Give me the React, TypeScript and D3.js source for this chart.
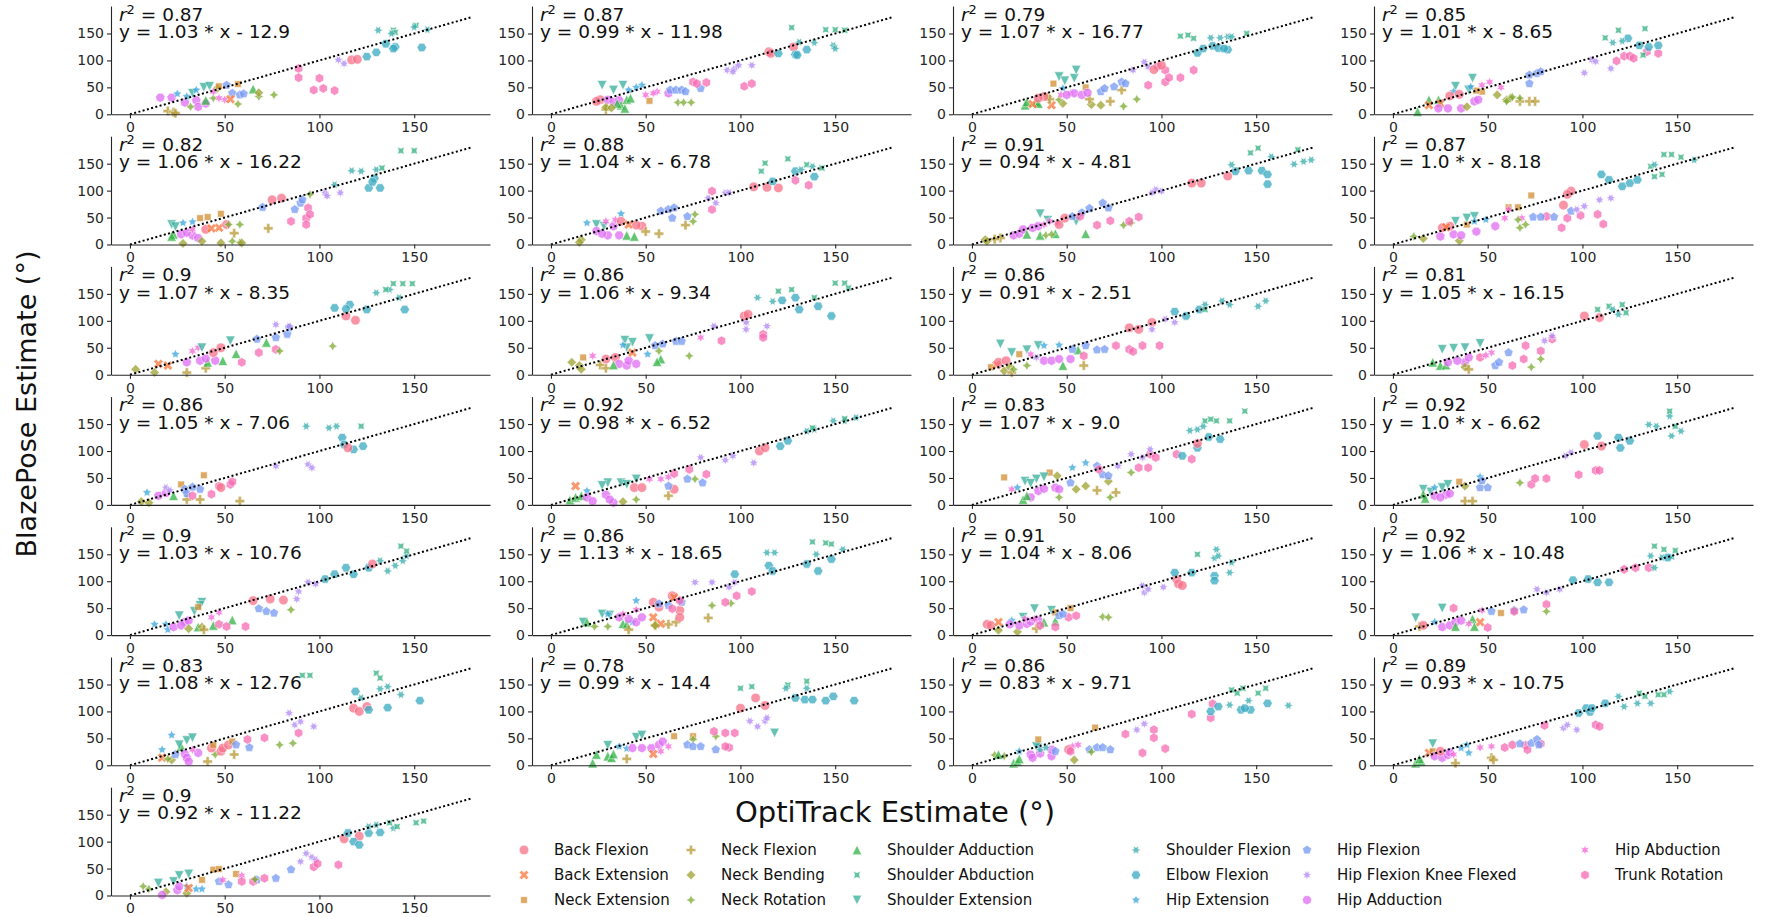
import { useEffect, useRef } from "react";
import * as d3 from "d3";

const CATEGORIES = [
  "Back Flexion", "Back Extension", "Neck Extension", "Neck Flexion", "Neck Bending", "Neck Rotation",
  "Shoulder Adduction", "Shoulder Abduction", "Shoulder Extension", "Shoulder Flexion", "Elbow Flexion",
  "Hip Extension", "Hip Flexion", "Hip Flexion Knee Flexed", "Hip Adduction", "Hip Abduction", "Trunk Rotation",
];

const R2 = ["0.87", "0.87", "0.79", "0.85", "0.82", "0.88", "0.91", "0.87", "0.9", "0.86", "0.86", "0.81",
  "0.86", "0.92", "0.83", "0.92", "0.9", "0.86", "0.91", "0.92", "0.83", "0.78", "0.86", "0.89", "0.9"];
const SLOPES = ["1.03", "0.99", "1.07", "1.01", "1.06", "1.04", "0.94", "1.0", "1.07", "1.06", "0.91", "1.05",
  "1.05", "0.98", "1.07", "1.0", "1.03", "1.13", "1.04", "1.06", "1.08", "0.99", "0.83", "0.93", "0.92"];
const INTERCEPTS = ["-12.9", "-11.98", "-16.77", "-8.65", "-16.22", "-6.78", "-4.81", "-8.18", "-8.35", "-9.34",
  "-2.51", "-16.15", "-7.06", "-6.52", "-9.0", "-6.62", "-10.76", "-18.65", "-8.06", "-10.48", "-12.76",
  "-14.4", "-9.71", "-10.75", "-11.22"];
const TICKS = [0, 50, 100, 150];

// [category index, OptiTrack estimate, BlazePose estimate]
type Pt = [number, number, number];

const P01: Pt[] = [[14,16,31],[14,22,31],[14,29,22],[14,35,26],[14,36,14],[14,40,20],[3,20,6],[3,23,4],[3,24,2],
  [5,32,14],[5,57,19],[5,68,33],[5,76,36],[5,44,30],[6,40,26],[6,65,47],[4,68,40],[4,46,48],[8,39,50],[8,33,39],
  [8,42,52],[11,25,38],[11,35,45],[11,30,33],[2,47,52],[2,57,56],[12,51,54],[12,54,39],[12,58,36],[12,60,38],
  [15,44,42],[15,50,27],[15,47,30],[1,53,28],[16,89,85],[16,89,68],[16,97,45],[16,100,67],[16,102,48],[16,108,44],
  [13,110,101],[13,113,94],[0,117,101],[0,120,102],[10,125,107],[10,130,115],[10,135,131],[10,140,125],[10,154,124],
  [10,139,122],[7,139,156],[7,151,165],[7,140,152],[9,131,156],[9,138,150],[9,157,157],[9,150,162]];
const P02: Pt[] = [[0,26,27],[0,24,24],[14,30,27],[14,33,23],[14,36,26],[14,62,39],[6,37,17],[6,40,27],[6,39,11],
  [6,42,30],[6,35,20],[3,29,9],[4,29,13],[4,32,12],[8,27,54],[8,33,45],[8,38,54],[11,48,54],[11,41,45],[11,45,50],
  [2,52,25],[15,50,36],[15,56,42],[15,54,39],[12,63,45],[12,66,45],[12,69,45],[12,71,42],[12,79,48],[5,67,22],
  [5,70,22],[5,74,22],[16,75,60],[16,82,59],[16,77,57],[16,102,52],[16,106,57],[13,93,82],[13,97,85],[13,99,91],
  [13,106,91],[13,96,79],[0,115,116],[0,116,113],[0,128,125],[10,120,113],[10,129,111],[10,130,110],[10,135,120],
  [7,127,161],[7,145,157],[7,150,157],[7,155,156],[9,131,134],[9,139,133],[9,149,128],[9,150,122]];
const P03: Pt[] = [[6,28,17],[6,29,23],[6,34,23],[6,35,20],[1,32,19],[1,42,17],[2,43,57],[2,60,50],[8,46,70],
  [8,49,62],[8,54,67],[8,55,82],[11,48,48],[4,40,33],[4,48,20],[4,63,18],[4,68,17],[3,41,28],[3,62,28],[3,73,24],
  [3,79,45],[5,80,15],[5,87,28],[5,46,27],[0,38,33],[0,35,30],[15,47,36],[15,52,39],[14,54,39],[14,58,36],[14,61,40],
  [14,50,36],[12,68,42],[12,70,48],[12,75,51],[12,79,60],[12,81,57],[13,85,82],[13,91,97],[13,93,88],[16,93,54],
  [16,98,89],[16,102,82],[16,102,60],[16,104,68],[16,110,68],[16,117,82],[0,96,83],[0,100,91],[10,119,114],
  [10,122,122],[10,127,127],[10,130,123],[10,135,120],[10,133,122],[7,110,145],[7,114,147],[7,117,141],[7,145,150],
  [9,126,142],[9,131,142],[9,135,144],[9,137,144]];
const P04: Pt[] = [[6,13,5],[6,19,27],[6,24,27],[1,19,17],[1,25,20],[2,47,42],[2,44,44],[14,24,11],[14,29,11],
  [14,36,11],[14,43,24],[14,45,27],[8,33,52],[8,42,67],[8,40,45],[11,32,42],[11,41,51],[4,39,14],[4,55,36],[4,60,27],
  [4,62,30],[3,67,24],[3,72,24],[3,75,24],[5,60,24],[5,63,32],[5,67,30],[15,47,54],[15,51,60],[15,57,50],[0,35,37],
  [0,30,34],[12,72,57],[12,72,73],[12,76,76],[12,78,79],[13,101,77],[13,105,101],[13,107,98],[13,115,85],[16,118,99],
  [16,122,108],[16,125,108],[16,127,104],[16,134,116],[16,140,113],[10,124,141],[10,130,128],[10,135,125],
  [10,140,128],[7,112,142],[7,119,156],[7,133,159],[7,132,110],[9,116,133],[9,121,136]];
const P05: Pt[] = [[8,22,37],[8,24,33],[11,28,40],[11,33,42],[2,37,49],[2,41,51],[2,48,57],[6,23,19],[6,22,15],
  [14,27,19],[14,33,17],[14,36,12],[14,30,22],[0,40,28],[1,47,31],[0,51,37],[1,43,30],[3,55,21],[3,73,30],[5,52,37],
  [5,58,37],[5,54,6],[5,58,4],[4,28,2],[4,38,6],[4,48,3],[4,59,3],[15,33,28],[12,70,69],[12,87,65],[12,90,77],
  [12,91,83],[0,75,83],[0,80,86],[16,85,43],[16,93,49],[16,93,37],[16,94,68],[16,95,56],[13,103,96],[13,104,90],
  [13,111,96],[5,95,93],[9,108,111],[10,126,105],[10,132,105],[10,129,123],[10,128,116],[9,117,137],[9,122,136],
  [9,130,139],[7,143,174],[7,150,174],[7,133,142]];
const P06: Pt[] = [[4,16,9],[4,15,4],[11,19,40],[11,37,57],[8,24,37],[8,28,34],[14,24,25],[14,30,17],[14,36,17],
  [14,33,34],[14,27,20],[15,29,43],[15,34,46],[0,37,43],[0,48,34],[0,45,36],[1,41,37],[6,40,17],[6,44,15],[3,50,24],
  [3,57,20],[3,71,36],[5,75,43],[5,76,56],[12,58,62],[12,62,65],[12,64,49],[12,72,52],[12,65,68],[16,85,65],
  [16,85,99],[13,83,86],[13,92,96],[13,94,96],[13,87,77],[0,114,106],[0,120,105],[0,107,107],[10,117,117],
  [10,139,126],[10,129,136],[16,129,119],[16,136,110],[7,113,151],[7,111,136],[7,125,159],[7,135,148],[7,143,142],
  [9,132,139],[9,138,145]];
const P07: Pt[] = [[4,7,9],[4,8,6],[3,15,12],[3,12,10],[14,22,17],[14,25,20],[14,27,28],[14,32,31],[14,35,34],
  [6,29,19],[6,36,17],[6,44,20],[6,60,20],[8,36,57],[8,55,43],[8,40,45],[15,38,37],[15,41,43],[15,45,40],[0,46,37],
  [0,49,49],[5,39,17],[5,42,19],[5,80,36],[5,84,40],[12,53,52],[12,62,67],[12,69,77],[12,72,68],[12,58,59],
  [16,57,52],[16,66,36],[16,73,44],[16,83,43],[16,88,51],[13,97,102],[13,100,99],[13,95,96],[0,116,114],[0,121,114],
  [0,135,127],[10,139,136],[10,146,137],[10,153,137],[10,156,130],[10,156,112],[9,137,148],[9,170,149],[9,175,154],
  [9,179,157],[9,158,163],[7,147,170],[7,151,179],[7,172,176]];
const P08: Pt[] = [[5,11,15],[4,16,11],[4,35,7],[14,25,15],[14,32,19],[14,36,17],[14,44,24],[14,54,34],[0,26,31],
  [0,30,34],[1,28,32],[2,39,37],[2,61,69],[2,66,69],[2,73,91],[8,33,43],[8,39,49],[8,43,52],[11,43,43],[11,49,46],
  [15,59,49],[15,61,65],[15,68,49],[5,67,31],[5,70,37],[5,66,46],[16,81,52],[16,89,31],[16,92,49],[16,99,54],
  [16,108,56],[16,111,38],[0,90,73],[0,94,99],[0,92,93],[12,74,51],[12,78,51],[12,85,51],[12,94,62],[13,97,65],
  [13,101,71],[13,109,83],[13,115,86],[10,110,130],[10,114,120],[10,121,108],[10,125,114],[10,129,120],[7,136,145],
  [7,138,126],[7,142,130],[7,143,167],[7,147,167],[7,152,162],[9,138,148],[9,159,157]];
const P09: Pt[] = [[4,3,10],[4,13,4],[1,15,20],[1,20,17],[3,30,4],[3,40,12],[11,24,38],[6,41,23],[6,49,26],
  [6,56,39],[6,72,60],[14,30,23],[14,37,26],[14,45,26],[14,40,30],[15,33,44],[15,36,50],[8,38,50],[8,53,63],
  [0,44,41],[0,48,50],[16,59,23],[16,68,41],[16,77,47],[5,79,44],[5,107,53],[12,67,66],[12,77,69],[12,83,75],
  [12,84,87],[13,77,93],[13,84,90],[0,114,109],[0,119,101],[10,108,124],[10,116,130],[10,125,121],[10,145,121],
  [10,114,122],[9,130,152],[9,137,158],[9,142,143],[7,139,169],[7,144,169],[7,149,169],[7,135,158]];
const P10: Pt[] = [[4,11,23],[4,15,17],[4,16,10],[2,17,32],[15,22,35],[15,79,69],[3,26,18],[3,29,12],[0,29,29],
  [0,34,32],[14,36,20],[14,40,17],[14,41,26],[14,45,20],[6,33,18],[6,58,29],[6,56,24],[8,39,64],[8,43,60],[8,52,67],
  [8,40,50],[1,43,41],[11,51,38],[11,38,55],[12,55,54],[12,59,57],[12,66,62],[12,69,62],[5,57,44],[5,73,35],
  [13,86,90],[13,103,97],[13,103,84],[13,114,90],[16,90,63],[16,112,75],[16,112,69],[0,102,109],[0,104,112],
  [9,109,143],[9,117,136],[10,122,138],[10,129,143],[10,131,121],[10,141,127],[10,148,109],[7,120,155],[7,127,158],
  [7,150,170],[7,155,170],[7,157,161],[7,139,143]];
const P11: Pt[] = [[2,10,14],[1,13,18],[2,25,38],[0,14,23],[0,18,26],[4,17,7],[4,20,14],[3,21,4],[3,59,17],
  [5,29,17],[5,22,10],[8,15,57],[8,21,41],[8,29,46],[8,35,54],[11,38,54],[11,46,55],[14,38,26],[14,42,26],[14,46,29],
  [14,52,29],[13,34,32],[15,31,38],[6,48,17],[6,56,46],[12,53,47],[12,60,54],[12,66,46],[12,70,47],[16,59,35],
  [16,76,54],[16,83,47],[16,85,43],[16,90,54],[16,99,54],[0,83,87],[0,88,84],[0,95,97],[13,95,84],[13,102,103],
  [13,107,97],[10,107,117],[10,113,109],[10,120,121],[9,123,130],[9,132,137],[9,136,130],[9,151,127],[9,155,137],
  [7,123,121]];
const P12: Pt[] = [[6,21,23],[6,25,17],[6,28,18],[8,26,47],[8,32,49],[8,38,50],[8,46,58],[14,29,23],[14,38,23],
  [14,40,32],[14,34,26],[4,38,14],[3,40,10],[16,46,32],[16,63,17],[16,69,29],[16,70,54],[16,78,44],[16,84,66],
  [15,52,41],[15,49,36],[12,54,17],[12,56,23],[12,61,41],[5,73,14],[5,78,29],[13,80,63],[13,84,72],[0,101,109],
  [0,109,106],[7,108,121],[7,114,127],[7,121,130],[7,123,115],[9,116,121],[9,119,112]];
const P13: Pt[] = [[4,6,6],[4,10,4],[11,9,23],[14,15,17],[14,19,22],[13,19,32],[13,21,27],[6,23,17],[3,30,10],
  [3,37,10],[3,58,7],[2,27,38],[2,39,55],[12,29,29],[12,37,29],[12,30,21],[12,33,33],[16,33,17],[16,43,20],[16,47,35],
  [16,53,38],[16,54,43],[0,48,32],[13,77,72],[13,94,75],[13,96,69],[10,112,125],[10,113,112],[10,118,103],
  [10,123,109],[0,115,106],[9,93,146],[9,105,143],[9,109,146],[7,122,146]];
const P14: Pt[] = [[6,10,9],[6,13,14],[6,16,17],[1,13,35],[11,19,26],[8,30,41],[8,37,41],[8,45,48],[8,40,38],
  [8,27,36],[14,19,14],[14,22,7],[14,29,19],[14,33,4],[14,31,10],[4,38,6],[0,44,32],[0,48,32],[0,65,29],[15,52,48],
  [15,58,48],[15,62,52],[3,62,17],[5,45,10],[5,76,48],[12,62,35],[12,72,48],[12,80,41],[16,65,58],[16,73,66],
  [16,82,57],[13,79,88],[13,92,83],[13,96,91],[13,107,78],[0,110,100],[0,113,106],[10,121,109],[10,125,119],
  [9,135,137],[9,139,140],[9,149,156],[9,155,156],[9,161,162],[7,138,143],[7,155,160]];
const P15: Pt[] = [[2,17,51],[2,41,60],[15,21,29],[11,24,32],[8,28,44],[8,34,48],[8,38,52],[8,31,40],[14,31,14],
  [14,35,26],[14,44,32],[14,46,29],[14,38,30],[6,27,10],[6,29,17],[4,45,54],[4,55,29],[4,60,35],[4,72,44],[5,46,14],
  [5,73,14],[5,84,60],[12,52,41],[12,66,72],[12,69,56],[12,72,54],[11,53,69],[11,60,78],[3,66,27],[3,76,23],
  [16,67,66],[16,88,69],[16,93,69],[16,94,94],[16,97,88],[16,108,94],[16,116,85],[13,77,72],[13,84,94],[13,90,88],
  [13,94,103],[10,111,91],[10,119,106],[10,125,126],[10,131,122],[0,119,114],[9,115,138],[9,119,140],[9,122,146],
  [7,123,156],[7,129,156],[7,136,156],[7,144,174],[7,126,159]];
const P16: Pt[] = [[8,16,29],[8,26,32],[8,29,38],[8,20,24],[6,16,20],[6,17,12],[14,22,17],[14,28,19],[14,30,21],
  [14,25,14],[11,22,32],[11,46,52],[2,35,43],[4,38,35],[3,38,7],[3,42,7],[12,46,32],[12,50,32],[12,47,45],[5,67,41],
  [16,73,38],[16,75,49],[16,81,49],[16,98,56],[16,107,64],[16,109,64],[13,91,91],[13,94,97],[0,101,112],[0,110,109],
  [10,108,128],[10,119,125],[10,120,106],[10,125,119],[9,135,149],[9,139,146],[9,146,165],[9,147,128],[9,152,137],
  [7,146,174],[7,149,146]];
const P17: Pt[] = [[11,13,20],[11,19,20],[11,20,10],[14,23,15],[14,29,24],[14,31,27],[14,27,18],[8,26,36],
  [8,34,44],[8,38,61],[8,37,55],[6,36,15],[6,54,28],[6,44,18],[4,31,12],[4,38,15],[3,39,10],[2,36,52],[15,43,33],
  [15,47,42],[16,47,20],[16,51,16],[16,61,16],[0,65,64],[0,74,67],[0,81,65],[12,68,49],[12,72,44],[12,76,41],
  [5,85,47],[13,88,67],[13,89,81],[13,94,98],[13,98,95],[10,103,104],[10,108,113],[10,114,125],[10,118,113],
  [10,126,125],[0,128,132],[9,132,138],[9,136,119],[9,140,129],[9,144,138],[9,146,147],[7,143,165],[7,146,156]];
const P18: Pt[] = [[8,17,24],[8,27,39],[8,31,37],[6,19,24],[6,38,21],[6,40,20],[11,30,39],[11,45,64],[11,43,24],
  [5,23,16],[5,30,16],[3,41,10],[3,55,18],[3,62,20],[3,66,24],[3,83,32],[14,36,33],[14,41,30],[14,45,24],[14,48,33],
  [15,38,39],[15,45,47],[0,54,61],[0,57,52],[0,64,73],[0,68,46],[0,68,33],[1,54,33],[1,58,21],[1,65,70],[4,55,18],
  [12,57,58],[12,62,55],[12,69,61],[16,64,49],[16,68,64],[5,85,55],[5,95,59],[13,76,98],[13,85,98],[13,94,89],
  [13,97,98],[16,92,61],[16,98,73],[16,106,81],[10,97,113],[10,115,129],[10,117,119],[10,135,132],[10,141,119],
  [10,148,141],[9,114,153],[9,118,153],[9,140,150],[9,154,159],[7,138,173],[7,145,171],[7,148,169]];
const P19: Pt[] = [[0,8,20],[0,10,18],[1,14,24],[4,14,9],[4,24,6],[3,34,12],[11,21,27],[14,20,20],[14,25,18],
  [14,29,21],[14,35,28],[14,31,25],[8,27,33],[8,33,49],[8,42,46],[15,28,30],[15,33,30],[6,38,24],[6,44,26],[2,44,42],
  [2,52,50],[16,36,18],[16,44,15],[16,51,33],[16,55,36],[12,46,36],[12,48,39],[5,69,34],[5,72,33],[13,90,92],
  [13,91,79],[13,93,85],[13,101,89],[0,108,104],[0,109,95],[0,111,92],[10,107,116],[10,116,116],[10,128,110],
  [10,128,101],[7,119,150],[9,128,143],[9,129,159],[9,130,147],[9,136,116],[9,137,135]];
const P20: Pt[] = [[8,12,32],[8,26,50],[3,14,16],[0,16,18],[11,22,24],[14,26,15],[14,30,18],[14,33,24],[14,36,27],
  [16,32,50],[16,50,14],[6,33,16],[6,42,30],[6,43,16],[1,46,24],[2,57,41],[15,40,21],[15,47,46],[12,52,44],
  [12,64,46],[12,69,47],[16,64,44],[16,81,57],[5,81,44],[13,76,85],[13,81,79],[13,88,85],[10,95,102],[10,103,104],
  [10,108,98],[10,114,98],[16,122,122],[16,128,125],[16,135,125],[9,136,147],[9,138,125],[9,142,144],[7,138,165],
  [7,143,159],[7,149,157],[7,147,145],[10,145,144]];
const P21: Pt[] = [[11,17,29],[11,22,56],[1,17,14],[4,22,10],[5,20,12],[12,24,20],[6,27,35],[8,26,38],[8,30,46],
  [8,33,51],[14,29,21],[14,30,14],[14,31,7],[14,36,23],[15,33,29],[3,41,7],[3,55,20],[5,45,20],[0,43,32],[0,48,26],
  [0,49,32],[0,52,38],[2,44,38],[2,54,44],[12,56,38],[12,63,33],[16,62,48],[16,71,51],[16,89,60],[5,79,38],
  [5,86,41],[13,84,97],[13,87,75],[13,90,81],[13,97,72],[0,118,106],[0,121,100],[0,125,109],[10,119,137],
  [10,126,103],[10,136,107],[10,153,120],[9,122,125],[9,132,142],[9,136,146],[9,143,131],[7,91,167],[7,95,167],
  [7,130,171],[7,132,162]];
const P22: Pt[] = [[6,22,4],[6,24,20],[6,30,17],[6,32,14],[6,33,21],[8,30,37],[8,45,52],[8,48,56],[8,118,60],
  [11,36,35],[11,40,31],[3,40,12],[14,43,32],[14,48,32],[14,53,32],[14,57,38],[14,59,44],[1,54,21],[15,58,26],
  [15,62,35],[2,65,54],[2,75,54],[5,75,48],[5,87,54],[12,72,38],[12,75,35],[12,79,35],[12,87,29],[16,86,63],
  [16,92,60],[16,97,60],[16,94,33],[16,92,35],[0,100,106],[0,108,125],[0,113,111],[13,105,82],[13,109,72],
  [13,113,82],[13,114,88],[7,100,143],[7,106,146],[7,125,149],[7,135,156],[9,124,143],[9,135,143],[10,129,125],
  [10,134,122],[10,138,122],[10,145,120],[10,149,128],[10,160,120]];
const P23: Pt[] = [[5,12,19],[5,17,17],[6,14,20],[6,22,4],[6,24,7],[6,25,12],[11,25,26],[11,35,38],[8,34,35],
  [2,35,48],[2,65,70],[14,31,20],[14,32,14],[14,42,17],[14,42,29],[14,36,22],[9,36,29],[9,39,33],[12,44,26],
  [12,62,29],[12,66,33],[12,69,33],[12,73,29],[4,54,10],[15,53,35],[15,56,38],[0,51,29],[5,63,25],[16,52,26],
  [16,81,58],[16,90,23],[16,96,66],[16,96,51],[16,102,31],[13,87,66],[13,91,77],[16,116,95],[16,126,88],
  [16,127,114],[10,126,100],[10,130,109],[10,142,103],[10,147,103],[10,156,115],[10,144,106],[9,136,112],
  [9,146,120],[9,167,111],[7,137,140],[7,140,134],[7,143,143],[7,151,134],[7,155,143]];
const P24: Pt[] = [[6,12,4],[6,15,7],[6,14,12],[8,21,40],[1,19,23],[2,21,26],[14,22,17],[14,26,14],[14,29,19],
  [14,30,24],[0,25,26],[15,32,20],[15,46,33],[15,52,35],[3,33,4],[3,52,14],[3,53,10],[11,36,32],[11,40,23],
  [11,39,38],[16,59,33],[16,63,38],[16,70,37],[16,71,29],[16,78,40],[16,80,74],[12,67,40],[12,73,41],[12,76,48],
  [12,77,38],[13,90,69],[13,92,75],[13,97,66],[16,107,75],[16,109,72],[10,98,97],[10,102,106],[10,104,99],
  [10,105,106],[10,112,115],[9,119,128],[9,122,109],[9,129,115],[9,136,115],[9,146,137],[7,130,134],[7,133,128],
  [7,140,131],[7,143,131]];
const P25: Pt[] = [[5,7,17],[5,10,12],[8,15,23],[8,23,26],[8,26,37],[8,31,40],[4,19,7],[4,30,4],[14,17,1],
  [14,25,10],[14,26,17],[11,30,17],[11,35,12],[11,38,12],[1,31,14],[2,38,29],[2,44,48],[2,47,49],[2,56,40],
  [12,47,26],[12,52,20],[12,67,29],[12,77,32],[12,85,48],[15,49,29],[15,59,37],[16,59,26],[16,65,26],[16,71,32],
  [5,66,30],[13,90,63],[13,93,78],[13,96,71],[13,98,66],[16,97,53],[16,99,59],[16,110,57],[0,113,105],[0,121,110],
  [10,115,116],[10,118,100],[10,121,94],[10,126,116],[10,132,117],[9,126,128],[9,130,131],[9,139,125],[7,137,135],
  [7,141,128],[7,151,135],[7,155,138]];

const PANELS = [P01, P02, P03, P04, P05, P06, P07, P08, P09, P10, P11, P12, P13, P14, P15, P16, P17, P18, P19,
  P20, P21, P22, P23, P24, P25];

const FONT = "'DejaVu Sans', sans-serif";
const INK = "#262626";
const COL_X = [111, 532, 953, 1374];
const ROW_TOP = 6;
const ROW_STEP = 130.2;
const PW = 379;
const PH = 108.3;
const MS = 9.6;

// seaborn husl palette
const HM = [[3.2406, -1.5372, -0.4986], [-0.9689, 1.8758, 0.0415], [0.0557, -0.204, 1.057]];
function maxChroma(L: number, H: number) {
  const hr = (H * Math.PI) / 180;
  const sinH = Math.sin(hr), cosH = Math.cos(hr);
  const sub1 = Math.pow(L + 16, 3) / 1560896;
  const sub2 = sub1 > 0.008856 ? sub1 : L / 903.3;
  let res = Infinity;
  for (const [m1, m2, m3] of HM) {
    const top = (0.99915 * m1 + 1.05122 * m2 + 1.1446 * m3) * sub2;
    const rb = 0.8633 * m3 - 0.17266 * m2;
    const lb = 0.12949 * m3 - 0.38848 * m1;
    const bottom = (rb * sinH + lb * cosH) * sub2;
    for (const t of [0, 1]) {
      const C = (L * (top - 1.05122 * t)) / (bottom + 0.17266 * sinH * t);
      if (C > 0 && C < res) res = C;
    }
  }
  return res;
}
function husl(h: number, s: number, l: number) {
  const C = (maxChroma(l, h) / 100) * s;
  const hr = (h * Math.PI) / 180;
  const U = Math.cos(hr) * C, V = Math.sin(hr) * C;
  const Y = l > 8 ? Math.pow((l + 16) / 116, 3) : l / 903.3;
  const vu = U / (13 * l) + 0.19784, vv = V / (13 * l) + 0.46834;
  const X = -(9 * Y * vu) / ((vu - 4) * vv - vu * vv);
  const Z = (9 * Y - 15 * vv * Y - vv * X) / (3 * vv);
  const c = HM.map(([a, b, d]) => {
    const v = a * X + b * Y + d * Z;
    const g = v <= 0.0031308 ? 12.92 * v : 1.055 * Math.pow(v, 1 / 2.4) - 0.055;
    return Math.round(Math.max(0, Math.min(1, g)) * 255);
  });
  return d3.rgb(c[0], c[1], c[2]).formatHex();
}
const COLORS = CATEGORIES.map((_, i) => husl((((i / CATEGORIES.length) + 0.01) % 1) * 359, 0.9 * 99, 0.65 * 99));

// seaborn default marker sequence
type Spec = string | [number, number, number];
const MARKERS: Spec[] = ["o", "X", [4, 0, 45], "P", [4, 0, 0], [4, 1, 0], "^", [4, 1, 45], "v",
  [6, 1, 30], [6, 0, 30], [5, 1, 0], [5, 0, 0], [7, 1, 360 / 14], [7, 0, 360 / 14], [6, 1, 0], [6, 0, 0]];

function closed(pts: number[][], k: number) {
  return "M" + pts.map((p) => `${(p[0] * k).toFixed(2)},${(-p[1] * k).toFixed(2)}`).join("L") + "Z";
}
function markerPath(spec: Spec, size: number) {
  const r = size / 2;
  if (spec === "o") return `M${r},0A${r},${r} 0 1,1 ${-r},0A${r},${r} 0 1,1 ${r},0Z`;
  if (spec === "^") return closed([[0, 1], [-1, -1], [1, -1]], r);
  if (spec === "v") return closed([[0, -1], [-1, 1], [1, 1]], r);
  if (spec === "P")
    return closed([[-1, -3], [1, -3], [1, -1], [3, -1], [3, 1], [1, 1], [1, 3], [-1, 3], [-1, 1], [-3, 1], [-3, -1], [-1, -1]], size / 6);
  if (spec === "X")
    return closed([[-1, -2], [0, -1], [1, -2], [2, -1], [1, 0], [2, 1], [1, 2], [0, 1], [-1, 2], [-2, 1], [-1, 0], [-2, -1]], size / 4);
  const [n, star, rot] = spec as [number, number, number];
  const m = star ? 2 * n : n;
  const pts = d3.range(m).map((k) => {
    const a = Math.PI / 2 + (2 * Math.PI * k) / m + (rot * Math.PI) / 180;
    const rr = star && k % 2 ? 0.5 : 1;
    return [rr * Math.cos(a), rr * Math.sin(a)];
  });
  return closed(pts, r);
}
const MARKER_D = MARKERS.map((m) => markerPath(m, MS));

function Panel({ idx }: { idx: number }) {
  const row = Math.floor(idx / 4), col = idx % 4;
  const left = COL_X[col], top = ROW_TOP + row * ROW_STEP;
  const x = d3.scaleLinear().domain([-10, 190]).range([0, PW]);
  const y = d3.scaleLinear().domain([0, 201]).range([PH, 0]);
  const xRef = useRef<SVGGElement>(null);
  const yRef = useRef<SVGGElement>(null);

  useEffect(() => {
    const style = (g: any) => {
      g.attr("font-family", FONT).attr("font-size", 14);
      g.select(".domain").attr("stroke", INK).attr("stroke-width", 1.1);
      g.selectAll(".tick line").attr("stroke", INK).attr("stroke-width", 1.1);
      g.selectAll(".tick text").attr("fill", INK);
    };
    d3.select(xRef.current!).call(d3.axisBottom(x).tickValues(TICKS).tickSize(4).tickPadding(4).tickSizeOuter(0)).call(style);
    d3.select(yRef.current!).call(d3.axisLeft(y).tickValues(TICKS).tickSize(4).tickPadding(3).tickSizeOuter(0)).call(style);
  }, []);

  const icpt = INTERCEPTS[idx];
  const eq = `y = ${SLOPES[idx]} * x ${icpt.startsWith("-") ? "- " + icpt.slice(1) : "+ " + icpt}`;

  return (
    <g transform={`translate(${left},${top})`}>
      {PANELS[idx].map(([c, px, py], i) => (
        <path key={i} d={MARKER_D[c]} transform={`translate(${x(px)},${y(py)})`}
          fill={COLORS[c]} stroke="#fff" strokeWidth={0.6} opacity={0.75} />
      ))}
      <line x1={x(0)} y1={y(0)} x2={x(180)} y2={y(180)} stroke="#000" strokeWidth={2} strokeDasharray="2 2.4" />
      <g ref={xRef} transform={`translate(0,${PH})`} />
      <g ref={yRef} />
      <text x={8} y={14.7} fontFamily={FONT} fontSize={18.5} fill="#111">
        <tspan fontStyle="italic">r</tspan>
        <tspan dy={-7} fontSize={13}>2</tspan>
        <tspan dy={7}>{` = ${R2[idx]}`}</tspan>
      </text>
      <text x={8} y={32.3} fontFamily={FONT} fontSize={18.5} fill="#111">{eq}</text>
    </g>
  );
}

const LEG_X = [524, 691, 857, 1136, 1307, 1585];
const LEG_Y = [850, 875, 900];

export default function App() {
  return (
    <svg width={1775} height={917} style={{ position: "absolute", left: 0, top: 0, background: "#fff" }}>
      <rect width={1775} height={917} fill="#fff" />
      {PANELS.map((_, i) => <Panel key={i} idx={i} />)}
      <text transform="translate(36,404) rotate(-90)" textAnchor="middle" fontFamily={FONT} fontSize={27} fill="#111">
        BlazePose Estimate (°)
      </text>
      <text x={895} y={822} textAnchor="middle" fontFamily={FONT} fontSize={29} fill="#111">
        OptiTrack Estimate (°)
      </text>
      {CATEGORIES.map((name, i) => {
        const cx = LEG_X[Math.floor(i / 3)], cy = LEG_Y[i % 3];
        return (
          <g key={name}>
            <path d={MARKER_D[i]} transform={`translate(${cx},${cy})`} fill={COLORS[i]} stroke="#fff" strokeWidth={0.6} opacity={0.75} />
            <text x={cx + 30} y={cy} dy="0.36em" fontFamily={FONT} fontSize={15} fill="#111">{name}</text>
          </g>
        );
      })}
    </svg>
  );
}
